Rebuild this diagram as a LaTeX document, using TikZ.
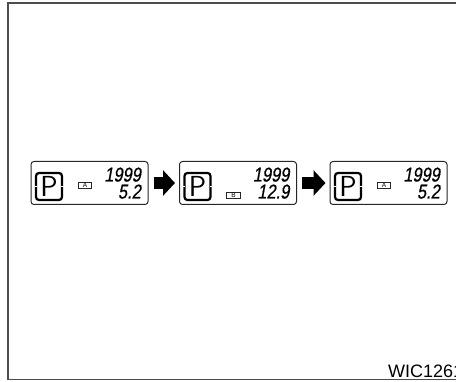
\documentclass[tikz,border=0pt]{standalone}
\usepackage{fontspec}
\setmainfont{Liberation Sans}
\newfontfamily\lcdfont[FakeBold=0.7, FakeSlant=0.18, FakeStretch=0.82]{Liberation Sans}
\usetikzlibrary{arrows.meta}

\begin{document}
\begin{tikzpicture}[x=1pt, y=1pt, every node/.style={inner sep=0pt},
	lcdbox/.style={draw=black!85, line width=1pt, rounded corners=3pt, minimum width=117pt, minimum height=43pt},
	gearbox/.style={draw=black, line width=2.2pt, rounded corners=3pt, minimum width=26pt, minimum height=27pt, font=\fontsize{29}{29}\selectfont\sffamily},
	tagbox/.style={draw=black!85, line width=0.9pt, minimum width=13.5pt, minimum height=6pt, font=\fontsize{6.5}{6.5}\selectfont},
	digits/.style={anchor=base east, font=\fontsize{20}{20}\lcdfont},
	blockarrow/.style={-{Triangle[length=12pt, width=25pt]}, line width=12pt, shorten <=5pt, shorten >=4pt}]
	\useasboundingbox (0,0) rectangle (456,381);
	\draw[black!70, line width=1.6pt] (456,378) -- (8,378) -- (8,1.5) -- (456,1.5);
	\foreach \i/\cx/\val/\tag/\ty in {1/89.5/5.2/A/196, 2/238/12.9/B/186, 3/388.5/5.2/A/196} {
		\node[lcdbox] (disp\i) at (\cx,198) {};
		\node[gearbox] (gear\i) at (\cx-40.5,194.5) {P};
		\draw[white, line width=1pt] ([xshift=-2pt]gear\i.west) -- ([xshift=2pt]gear\i.west);
		\draw[white, line width=1pt] ([xshift=-2pt]gear\i.east) -- ([xshift=2pt]gear\i.east);
		\node[tagbox] (tag\i) at (\cx-4.5,\ty) {\tag};
		\node[digits] (year\i) at (\cx+51.5,199.5) {1999};
		\node[digits] (val\i) at (\cx+51.5,182.5) {\val};
	}
	\draw[blockarrow] (disp1.east) -- (disp2.west);
	\draw[blockarrow] (disp2.east) -- (disp3.west);
	\node[anchor=base west, font=\fontsize{18}{18}\selectfont] (code) at (388,4) {WIC1261};
\end{tikzpicture}
\end{document}
